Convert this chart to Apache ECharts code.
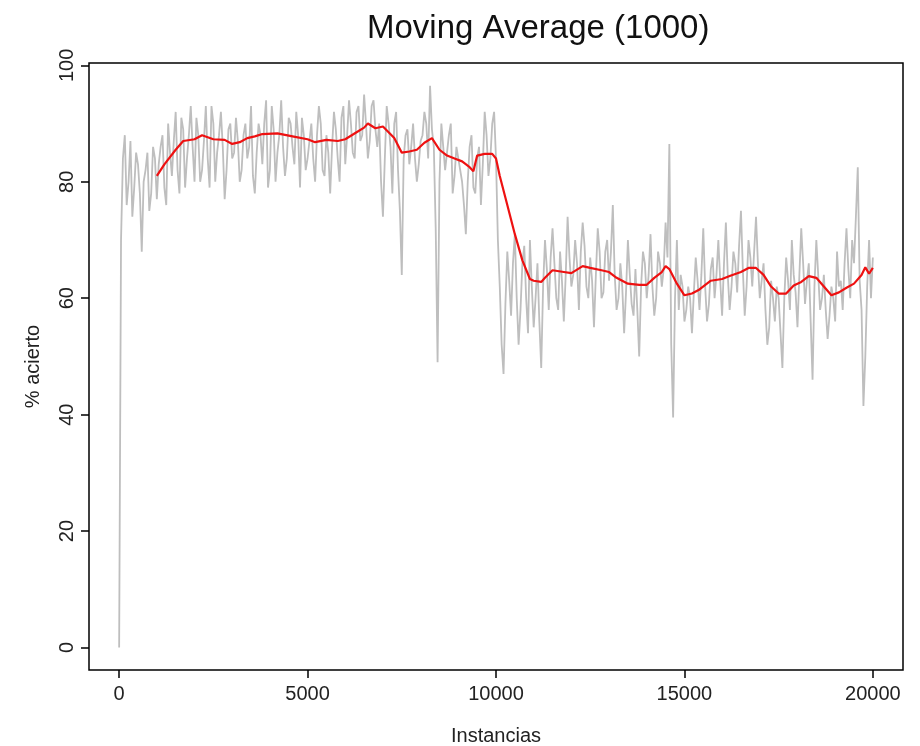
<!DOCTYPE html>
<html>
<head>
<meta charset="utf-8">
<script src="https://cdn.jsdelivr.net/npm/echarts@6/dist/echarts.min.js"></script>
<style>html,body{margin:0;padding:0;background:#fff;}#c{width:920px;height:746px;}</style>
</head>
<body>
<div id="c"></div>
<script>
// Raw accuracy, sampled every STEP instances (starting at instance 0)
const STEP = 50;
const rawAccuracy = [
  0,
  70,84,88,76,80,87,74,79,85,83,78,68,80,82,85,75,78,86,84,77,
  83,86,88,79,76,90,85,81,87,92,82,78,91,89,79,84,88,93,86,80,
  91,88,80,82,87,93,84,79,93,90,80,85,88,92,86,77,82,89,90,84,
  85,91,87,80,82,88,90,84,86,93,81,78,85,90,88,83,90,94,79,82,
  93,89,80,85,88,94,86,81,84,91,90,86,83,92,88,79,91,88,82,84,
  87,90,84,80,88,93,90,82,81,88,85,78,86,92,89,84,80,91,93,83,
  88,94,90,85,84,92,93,87,88,95,90,84,87,93,94,89,86,90,80,74,
  84,93,90,86,78,90,92,82,75,64,84,88,89,83,86,90,84,80,83,87,
  88,92,90,84,96.5,89,86,72,49,80,90,86,82,85,88,90,78,81,86,84,
  84,80,76,71,80,86,88,79,78,84,86,76,83,92,88,81,84,90,92,84,
  70,62,52,47,59,68,63,57,66,71,60,52,58,66,69,60,54,70,62,55,
  60,66,56,48,62,70,65,58,67,72,66,60,58,68,63,56,64,74,67,62,
  64,70,66,58,68,73,69,62,60,67,63,55,64,72,68,60,61,68,70,63,
  68,76,64,58,60,66,62,54,61,70,64,59,57,65,58,50,62,68,66,60,
  64,71,62,57,60,68,66,62,65,73,67,86.5,52,39.5,60,70,58,64,62,56,
  58,62,60,54,61,67,63,58,64,72,62,56,59,65,67,60,64,70,63,57,
  66,73,64,58,62,68,66,61,69,75,65,57,62,70,67,62,68,74,66,60,
  63,66,58,52,55,63,60,56,62,60,54,48,60,67,63,58,70,64,61,55,
  64,72,66,59,63,66,56,46,62,70,64,58,60,64,58,53,57,62,60,56,
  68,62,63,58,66,72,65,60,70,66,74,82.5,63,58,41.5,50,62,70,60,67
];

// Moving average (1000)
const maX = [1000,1200,1500,1700,2000,2200,2500,2800,3000,3200,3400,3600,3800,4200,4600,5000,5200,5500,5800,6000,6300,6500,6600,6800,7000,7300,7500,7700,7900,8100,8300,8500,8700,8900,9100,9300,9400,9500,9700,9900,10000,10100,10300,10500,10700,10900,11000,11200,11300,11500,11800,12000,12300,12500,12800,13000,13200,13500,13800,14000,14200,14400,14500,14600,14800,15000,15200,15400,15700,16000,16200,16500,16700,16900,17100,17300,17500,17700,17900,18100,18300,18500,18700,18900,19100,19300,19500,19700,19800,19900,20000];
const maY = [81,83,85.5,87,87.3,88,87.3,87.2,86.5,86.8,87.5,87.8,88.2,88.3,87.8,87.3,86.8,87.2,87,87.3,88.5,89.3,90,89.2,89.5,87.5,85,85.2,85.5,86.7,87.5,85.5,84.5,84,83.5,82.5,81.8,84.5,84.8,84.8,84,81,76,71,66.5,63.3,63,62.8,63.5,64.8,64.5,64.3,65.5,65.2,64.8,64.5,63.5,62.5,62.3,62.3,63.5,64.5,65.5,65,62.5,60.5,60.8,61.5,63,63.3,63.8,64.5,65.2,65.2,64,62,60.8,60.8,62.2,62.8,63.8,63.5,62,60.5,61,61.8,62.5,64,65.3,64.2,65.2];

const xTicks = [0,5000,10000,15000,20000];
const yTicks = [0,20,40,60,80,100];
const titleText = 'Moving Average (1000)';
const xName = 'Instancias';
const yName = '% acierto';

const rawData = rawAccuracy.map((v,i)=>[i*STEP, v]);
const maData = maX.map((x,i)=>[x, maY[i]]);

const FONT = 'Liberation Sans, Arial, sans-serif';
const chart = echarts.init(document.getElementById('c'), null, {renderer:'canvas'});
chart.setOption({
  animation:false,
  backgroundColor:'#fff',
  title:{text:titleText, left:362, top:7, textStyle:{fontFamily:FONT, fontSize:33, fontWeight:'normal', color:'#111'}},
  grid:{left:89, right:17, top:63, bottom:76, show:true, borderColor:'#000', borderWidth:1.5, backgroundColor:'transparent', containLabel:false, outerBoundsMode:'none'},
  xAxis:{type:'value', min:-800, max:20800,
    axisLine:{show:false, onZero:false},
    axisTick:{show:true, customValues:xTicks, length:8, lineStyle:{color:'#000', width:1.5}},
    axisLabel:{customValues:xTicks, formatter:v=>String(v), fontFamily:FONT, fontSize:20, color:'#222', margin:14},
    splitLine:{show:false},
    name:xName, nameLocation:'middle', nameGap:56, nameTextStyle:{fontFamily:FONT, fontSize:20, color:'#222'}},
  yAxis:{type:'value', min:-3.86, max:100.4,
    axisLine:{show:false, onZero:false},
    axisTick:{show:true, customValues:yTicks, length:8, lineStyle:{color:'#000', width:1.5}},
    axisLabel:{customValues:yTicks, formatter:v=>String(v), rotate:90, fontFamily:FONT, fontSize:20, color:'#222', margin:12},
    splitLine:{show:false},
    name:yName, nameLocation:'middle', nameGap:46, nameRotate:90, nameTextStyle:{fontFamily:FONT, fontSize:20, color:'#222'}},
  series:[
    {type:'line', data:rawData, showSymbol:false, lineStyle:{color:'#bebebe', width:1.8}, z:2},
    {type:'line', data:maData, showSymbol:false, lineStyle:{color:'#ee1111', width:2.2}, z:3}
  ]
});
</script>
</body>
</html>
